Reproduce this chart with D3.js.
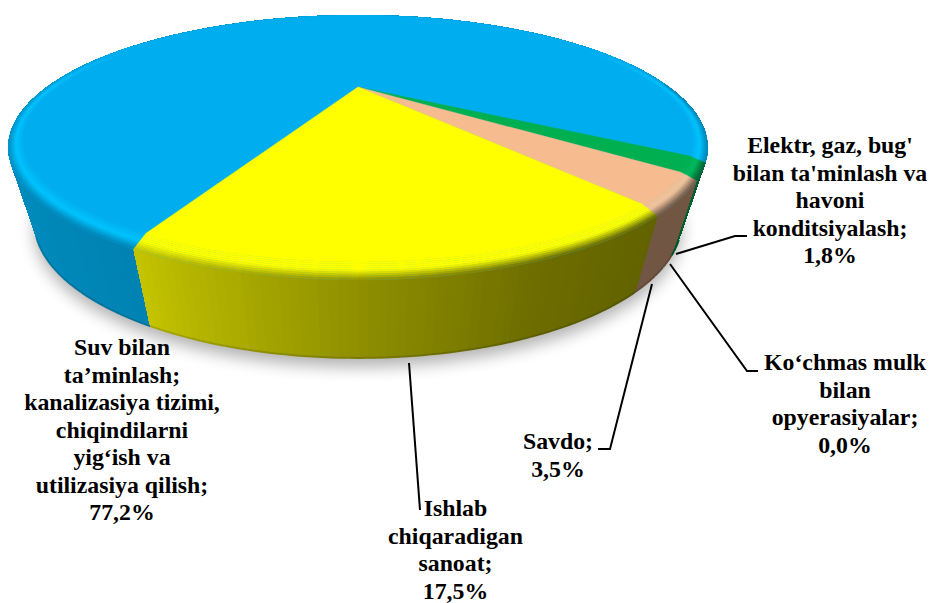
<!DOCTYPE html>
<html>
<head>
<meta charset="utf-8">
<script src="https://cdn.jsdelivr.net/npm/d3@7"></script>
<style>
  html, body { margin: 0; padding: 0; background: #fff; }
  svg { display: block; }
  text { font-family: "Liberation Serif", serif; font-weight: bold; font-size: 23.8px; fill: #000; }
</style>
</head>
<body>
<div id="chart"></div>
<script>
// Values as printed on the chart labels.
const categories = [
    "Suv bilan ta’minlash",
    "Elektr, gaz, bug'",
    "Ko‘chmas mulk",
    "Savdo",
    "Ishlab chiqaradigan sanoat"
];
const shares = [77.2, 1.8, 0.0, 3.5, 17.5];
const labelLines = [
    ["Suv bilan", "ta’minlash;", "kanalizasiya tizimi,", "chiqindilarni", "yig‘ish va", "utilizasiya qilish;", "77,2%"],
    ["Elektr, gaz, bug'", "bilan ta'minlash va", "havoni", "konditsiyalash;", "1,8%"],
    ["Ko‘chmas mulk", "bilan", "opyerasiyalar;", "0,0%"],
    ["Savdo;", "3,5%"],
    ["Ishlab", "chiqaradigan", "sanoat;", "17,5%"]
];

const width = 931, height = 603;

// Face and rim colours per slice.
const faceColors = ["#00aeef", "#00b050", "#00b050", "#f6bc8f", "#ffff00"];
const rimColors = ["#00c4ff", "#00b858", "#00b858", "#f8c49a", "#ffff00"];
const sideStops = [
    { at: [115, 150, 180, 250], colors: ["#0083b3", "#008cbf", "#0098d0", "#0098d0"] },
    { at: [0, 360], colors: ["#005f2c", "#005f2c"] },
    { at: [0, 360], colors: ["#005f2c", "#005f2c"] },
    { at: [0, 360], colors: ["#715643", "#715643"] },
    { at: [52, 70, 90, 115], colors: ["#626200", "#6c6c00", "#8f8f00", "#c4c400"] }
];

// Where the label blocks and their leader lines sit.
const labelPlace = [
    { x: 122, y: 348 }, { x: 830, y: 146 }, { x: 845, y: 363 }, { x: 558, y: 442 }, { x: 455.5, y: 509 }
];
const leaders = [
    null,
    [[676, 254], [735, 236], [747, 236]],
    [[670, 264], [747, 371], [758, 371]],
    [[652, 284], [610, 449], [598, 449]],
    [[409, 363], [420, 510]]
];
const lineStep = 27.5;

// Pie lies in perspective: the near edge is larger than the far one.
const k = 0.457;
const topFace = { x0: 358, y0: 87, a: 311, b: 104.8 };
const flatFace = { x0: 358, y0: 87, a: 311, b: 100 };  // flat part sits a little inside the rim
const bottomFace = { x0: 358, y0: 159, a: 288, b: 108 };
const flatR = 0.966;
const rad = d => d * Math.PI / 180;

function project(face, deg, r) {
    const u = r * Math.cos(rad(deg)), v = r * Math.sin(rad(deg));
    const w = 1 - k * v;
    return [face.x0 + face.a * u / w, face.y0 + face.b * v / w];
}

// d3.pie angles run clockwise from 12 o'clock, screen degrees from 3 o'clock.
const pie = d3.pie().sort(null).value(d => d).startAngle(rad(205)).endAngle(rad(565));
const arcs = pie(shares).map((a, i) => ({
    i,
    from: a.startAngle * 180 / Math.PI - 90,
    to: a.endAngle * 180 / Math.PI - 90
}));

const line = d3.line();
const svg = d3.select("#chart").append("svg")
    .attr("width", width)
    .attr("height", height)
    .attr("viewBox", [0, 0, width, height]);

svg.append("defs").append("filter")
    .attr("id", "shadow")
    .attr("x", "-10%").attr("y", "-20%").attr("width", "120%").attr("height", "140%")
    .append("feGaussianBlur").attr("stdDeviation", 8);

function anglesOf(a, step) {
    const out = [];
    for (let t = a.from; t < a.to; t += step) out.push(t);
    if (a.to > a.from) out.push(a.to);
    return out;
}

function sideColor(i, deg) {
    const s = sideStops[i];
    const d = ((deg % 360) + 360) % 360;
    return d3.scaleLinear().domain(s.at).range(s.colors).clamp(true)(d);
}

// Soft shadow under the body.
const outline = d3.range(0, 360, 3).map(t => {
    const p = project(bottomFace, t, 1);
    return [p[0], p[1] + 9];
});
svg.append("path")
    .attr("d", line(outline) + "Z")
    .attr("fill", "#000")
    .attr("opacity", 0.3)
    .attr("filter", "url(#shadow)");

// Side wall, thin strips painted far to near.
const strips = [];
arcs.forEach(a => {
    const ts = anglesOf(a, 1);
    for (let n = 0; n < ts.length - 1; n++) strips.push({ i: a.i, t0: ts[n], t1: ts[n + 1] });
});
strips.sort((p, q) => Math.sin(rad((p.t0 + p.t1) / 2)) - Math.sin(rad((q.t0 + q.t1) / 2)));

const side = svg.append("g").attr("shape-rendering", "crispEdges");
side.selectAll("path")
    .data(strips)
    .enter()
    .append("path")
    .attr("d", d => line([
        project(topFace, d.t0, 1), project(topFace, d.t1, 1),
        project(bottomFace, d.t1, 1), project(bottomFace, d.t0, 1)
    ]) + "Z")
    .attr("fill", d => sideColor(d.i, (d.t0 + d.t1) / 2))
    .attr("stroke", d => sideColor(d.i, (d.t0 + d.t1) / 2))
    .attr("stroke-width", 1);

// Darker lip along the bottom edge of the wall.
svg.append("g").selectAll("path")
    .data(strips.filter(d => Math.sin(rad(d.t0)) > 0.55))
    .enter()
    .append("path")
    .attr("d", d => line([project(bottomFace, d.t0, 1), project(bottomFace, d.t1, 1)]))
    .attr("fill", "none")
    .attr("stroke", d => d3.rgb(sideColor(d.i, d.t0)).darker(0.4))
    .attr("stroke-width", 2);

// Whole top in the biggest slice's colour, then the small wedges over it.
svg.append("path")
    .attr("d", line(d3.range(0, 360, 1).map(t => project(topFace, t, 1))) + "Z")
    .attr("fill", faceColors[0]);

svg.append("g").selectAll("path")
    .data(arcs.filter(a => a.to > a.from && a.i > 0))
    .enter()
    .append("path")
    .attr("d", a => line([[flatFace.x0, flatFace.y0]].concat(anglesOf(a, 1).map(t => project(flatFace, t, flatR + 0.003)))) + "Z")
    .attr("fill", a => faceColors[a.i])
    .attr("stroke", a => faceColors[a.i])
    .attr("stroke-width", 0.4);

// Bevel between flat top and wall.
const bevelSteps = 10;
const bevel = [];
const strength = t => Math.max(0, Math.min(1, (Math.sin(rad(t)) + 0.45) / 0.45));
arcs.forEach(a => {
    const ts = anglesOf(a, 2);
    for (let n = 0; n < ts.length - 1; n++) {
        if (strength(ts[n]) === 0 && strength(ts[n + 1]) === 0) continue;
        for (let j = 0; j < bevelSteps; j++) bevel.push({ i: a.i, t0: ts[n], t1: ts[n + 1], j });
    }
});

function bevelPoint(t, f) {
    const p = project(flatFace, t, flatR), q = project(topFace, t, 1);
    return [p[0] + (q[0] - p[0]) * f, p[1] + (q[1] - p[1]) * f];
}

function bevelColor(d) {
    const t = (d.t0 + d.t1) / 2, f = (d.j + 0.5) / bevelSteps;
    const base = faceColors[d.i], rim = rimColors[d.i], wall = sideColor(d.i, t);
    const c = f < 0.5
        ? d3.interpolateRgb(base, rim)(f / 0.5)
        : d3.interpolateRgb(rim, wall)((f - 0.5) / 0.5);
    return d3.interpolateRgb(base, c)(strength(t));
}

svg.append("g").selectAll("path")
    .data(bevel)
    .enter()
    .append("path")
    .attr("d", d => line([
        bevelPoint(d.t0, d.j / bevelSteps), bevelPoint(d.t1, d.j / bevelSteps),
        bevelPoint(d.t1, (d.j + 1) / bevelSteps), bevelPoint(d.t0, (d.j + 1) / bevelSteps)
    ]) + "Z")
    .attr("fill", bevelColor)
    .attr("stroke", bevelColor)
    .attr("stroke-width", 0.5);

// Leader lines.
svg.append("g").selectAll("path")
    .data(leaders.filter(d => d))
    .enter()
    .append("path")
    .attr("d", d => line(d))
    .attr("fill", "none")
    .attr("stroke", "#000")
    .attr("stroke-width", 2);

// Labels.
const labels = svg.append("g").selectAll("text")
    .data(categories.map((c, i) => ({ lines: labelLines[i], place: labelPlace[i] })))
    .enter()
    .append("text")
    .attr("text-anchor", "middle");

labels.selectAll("tspan")
    .data(d => d.lines.map((s, n) => ({ s, x: d.place.x, y: d.place.y + n * lineStep })))
    .enter()
    .append("tspan")
    .attr("x", d => d.x)
    .attr("y", d => d.y)
    .attr("dy", "0.3em")
    .text(d => d.s);
</script>
</body>
</html>
